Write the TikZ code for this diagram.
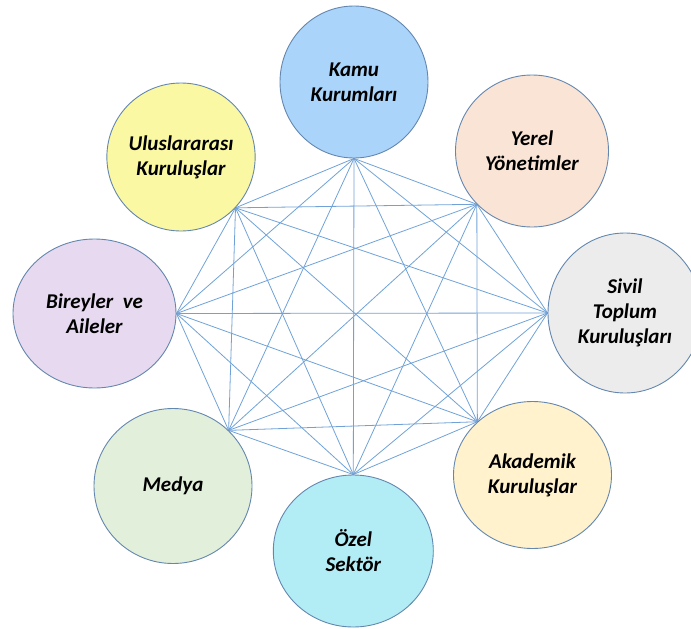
\documentclass[tikz,border=0pt]{standalone}
\usepackage{fontspec}
\setmainfont{Carlito}
\usetikzlibrary{shapes.geometric,backgrounds}

\definecolor{rimblue}{RGB}{100,135,175}
\definecolor{linkblue}{RGB}{112,162,216}
\definecolor{kamufill}{RGB}{170,212,250}
\definecolor{yerelfill}{RGB}{250,228,213}
\definecolor{sivilfill}{RGB}{236,236,236}
\definecolor{akademikfill}{RGB}{255,242,204}
\definecolor{ozelfill}{RGB}{178,236,245}
\definecolor{medyafill}{RGB}{226,239,218}
\definecolor{bireyfill}{RGB}{230,217,240}
\definecolor{uluslarfill}{RGB}{250,248,162}

\tikzset{
  actor/.style={ellipse, draw=rimblue, line width=0.9pt, align=center,
    inner sep=0pt, text=black,
    font=\fontsize{21}{25}\selectfont\bfseries\itshape},
  link/.style={draw=linkblue, line width=0.8pt},
}

\begin{document}
\begin{tikzpicture}[x=1pt,y=-1pt]
\useasboundingbox (0,0) rectangle (691,629);

% the eight stakeholder groups
\node[actor, fill=kamufill, minimum width=148pt, minimum height=152pt]
  (kamu) at (354,82) {Kamu\\Kurumları};
\node[actor, fill=yerelfill, minimum width=153pt, minimum height=152pt]
  (yerel) at (532,151) {Yerel\\Yönetimler};
\node[actor, fill=sivilfill, minimum width=154pt, minimum height=160pt]
  (sivil) at (625,313) {Sivil\\Toplum\\Kuruluşları};
\node[actor, fill=akademikfill, minimum width=158pt, minimum height=147pt]
  (akademik) at (532.5,475) {Akademik\\Kuruluşlar};
\node[actor, fill=ozelfill, minimum width=160pt, minimum height=152pt]
  (ozel) at (353.3,551) {Özel\\Sektör};
\node[actor, fill=medyafill, minimum width=158pt, minimum height=155pt]
  (medya) at (173,486) {Medya};
\node[actor, fill=bireyfill, minimum width=163pt, minimum height=149pt]
  (birey) at (94.5,313.5) {Bireyler\ \ ve\\Aileler};
\node[actor, fill=uluslarfill, minimum width=148pt, minimum height=148pt]
  (uluslar) at (181,157) {Uluslararası\\Kuruluşlar};

% contact points facing the centre of the ring
\coordinate (pK) at (kamu.270);
\coordinate (pY) at (yerel.224);
\coordinate (pS) at (sivil.180);
\coordinate (pA) at (akademik.136);
\coordinate (pO) at (ozel.90);
\coordinate (pM) at (medya.45);
\coordinate (pB) at (birey.0);
\coordinate (pU) at (uluslar.317);

% every group linked with every other one
\begin{scope}[on background layer]
\foreach \a/\b in {pK/pY,pK/pS,pK/pA,pK/pO,pK/pM,pK/pB,pK/pU,
                   pY/pS,pY/pA,pY/pO,pY/pM,pY/pB,pY/pU,
                   pS/pA,pS/pO,pS/pM,pS/pB,pS/pU,
                   pA/pO,pA/pM,pA/pB,pA/pU,
                   pO/pM,pO/pB,pO/pU,
                   pM/pB,pM/pU,
                   pB/pU}
  \draw[link] (\a) -- (\b);
\end{scope}
\end{tikzpicture}
\end{document}
